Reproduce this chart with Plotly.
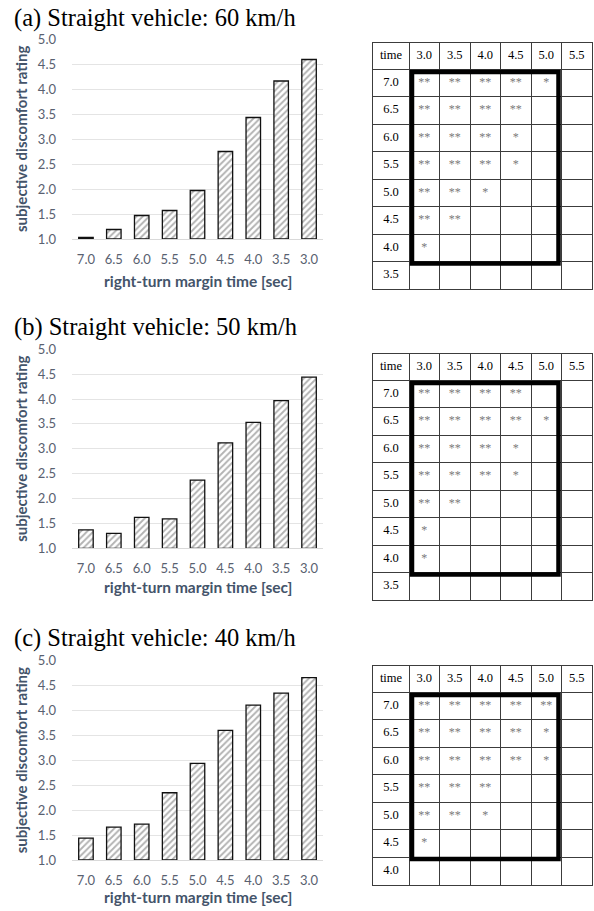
import plotly.graph_objects as go

W, H = 594, 911

# ---------------- data ----------------
margin_times = ["7.0", "6.5", "6.0", "5.5", "5.0", "4.5", "4.0", "3.5", "3.0"]
rating_60 = [1.03, 1.19, 1.47, 1.57, 1.97, 2.75, 3.43, 4.16, 4.59]
rating_50 = [1.37, 1.30, 1.62, 1.59, 2.37, 3.12, 3.53, 3.97, 4.44]
rating_40 = [1.44, 1.66, 1.72, 2.35, 2.94, 3.60, 4.11, 4.35, 4.66]

panel_titles = ["(a) Straight vehicle: 60 km/h",
                "(b) Straight vehicle: 50 km/h",
                "(c) Straight vehicle: 40 km/h"]

table_header = ["time", "3.0", "3.5", "4.0", "4.5", "5.0", "5.5"]
rows_60 = ["7.0", "6.5", "6.0", "5.5", "5.0", "4.5", "4.0", "3.5"]
sig_60 = [
    ["**", "**", "**", "**", "*", ""],
    ["**", "**", "**", "**", "", ""],
    ["**", "**", "**", "*", "", ""],
    ["**", "**", "**", "*", "", ""],
    ["**", "**", "*", "", "", ""],
    ["**", "**", "", "", "", ""],
    ["*", "", "", "", "", ""],
    ["", "", "", "", "", ""],
]
rows_50 = ["7.0", "6.5", "6.0", "5.5", "5.0", "4.5", "4.0", "3.5"]
sig_50 = [
    ["**", "**", "**", "**", "", ""],
    ["**", "**", "**", "**", "*", ""],
    ["**", "**", "**", "*", "", ""],
    ["**", "**", "**", "*", "", ""],
    ["**", "**", "", "", "", ""],
    ["*", "", "", "", "", ""],
    ["*", "", "", "", "", ""],
    ["", "", "", "", "", ""],
]
rows_40 = ["7.0", "6.5", "6.0", "5.5", "5.0", "4.5", "4.0"]
sig_40 = [
    ["**", "**", "**", "**", "**", ""],
    ["**", "**", "**", "**", "*", ""],
    ["**", "**", "**", "**", "*", ""],
    ["**", "**", "**", "", "", ""],
    ["**", "**", "*", "", "", ""],
    ["*", "", "", "", "", ""],
    ["", "", "", "", "", ""],
]
# thick frame: columns 3.0-5.0, rows from 7.0 down to this row label
frame_last_row = ["4.0", "4.0", "4.5"]

# ---------------- layout geometry (pixels) ----------------
chart_x = (72, 323)
chart_y = [(39, 239), (349.3, 548.3), (660.7, 860)]   # (5.0 line, 1.0 line)
title_base = [26, 335, 646]
xtitle_y = [281, 587, 897]
table_top = [43, 354, 666]
table_left = 373
col_w = [36, 30.5, 30.5, 30.5, 30.5, 30.5, 30.5]
head_h = 26
row_h = 27.5

TICK_COL = "#596170"
TITLE_COL = "#44546a"
SANS = "Lato, 'Open Sans', sans-serif"
SERIF = "'Liberation Serif', 'Times New Roman', serif"
GRIDC = "#3c3c3c"


def px(x):
    return x / W


def py(y):
    return 1 - y / H


fig = go.Figure()
ratings = [rating_60, rating_50, rating_40]
rows_all = [rows_60, rows_50, rows_40]
sigs = [sig_60, sig_50, sig_40]

col_edges = [0]
for w in col_w:
    col_edges.append(col_edges[-1] + w)
col_centers = [(col_edges[k] + col_edges[k + 1]) / 2 for k in range(len(col_w))]

for i in range(3):
    ax = "" if i == 0 else str(i + 1)
    vals = ratings[i]
    fig.add_trace(go.Bar(
        x=margin_times, y=[v - 1 for v in vals], base=1,
        xaxis="x" + ax, yaxis="y" + ax,
        marker=dict(color="white",
                    line=dict(color="#111111", width=1.3),
                    pattern=dict(shape="/", fgcolor="#666666", bgcolor="white",
                                 size=4.5, solidity=0.42)),
        showlegend=False, hoverinfo="skip",
    ))
    top, bot = chart_y[i]
    fig.update_layout({
        "xaxis" + ax: dict(domain=[px(chart_x[0]), px(chart_x[1])],
                           anchor="y" + ax, type="category", automargin=False,
                           showgrid=False, showline=True, linecolor="#d9d9d9",
                           linewidth=1, ticks="", ticklabelstandoff=8,
                           tickfont=dict(family=SANS, size=13, color=TICK_COL),
                           fixedrange=True),
        "yaxis" + ax: dict(domain=[py(bot), py(top)], anchor="x" + ax,
                           automargin=False,
                           range=[1, 5], dtick=0.5, tick0=1, tickformat=".1f",
                           showgrid=True, gridcolor="#e4e4e4", gridwidth=1,
                           zeroline=False, showline=False, ticks="",
                           ticklabelstandoff=15,
                           tickfont=dict(family=SANS, size=13, color=TICK_COL),
                           fixedrange=True),
    })
    # panel title
    fig.add_annotation(text=panel_titles[i], xref="paper", yref="paper",
                       x=px(12), y=py(title_base[i] - 8), xanchor="left",
                       yanchor="middle", showarrow=False,
                       font=dict(family=SERIF, size=24.5, color="black"))
    # axis titles
    fig.add_annotation(text="<b>right-turn margin time [sec]</b>", xref="paper",
                       yref="paper", x=px(197.5), y=py(xtitle_y[i]),
                       xanchor="center", yanchor="middle", showarrow=False,
                       font=dict(family=SANS, size=15.5, color=TITLE_COL))
    fig.add_annotation(text="<b>subjective discomfort rating</b>", xref="paper",
                       yref="paper", x=px(21), y=py((top + bot) / 2),
                       xanchor="center", yanchor="middle", textangle=-90,
                       showarrow=False,
                       font=dict(family=SANS, size=15, color=TITLE_COL))

    # ---------- significance table drawn on its own axes ----------
    rows = rows_all[i]
    sig = sigs[i]
    n = len(rows)
    row_edges = [0, head_h] + [head_h + (r + 1) * row_h for r in range(n)]
    row_centers = [(row_edges[k] + row_edges[k + 1]) / 2 for k in range(n + 1)]
    tab_h = row_edges[-1]
    t0 = table_top[i]
    tx = "x" + str(4 + i)
    ty = "y" + str(4 + i)
    fig.update_layout({
        "xaxis" + str(4 + i): dict(domain=[px(table_left),
                                           px(table_left + col_edges[-1])],
                                   anchor=ty, range=[0, col_edges[-1]],
                                   automargin=False,
                                   tickvals=col_edges, showticklabels=False,
                                   showgrid=True, gridcolor=GRIDC, gridwidth=1,
                                   zeroline=False, showline=True, mirror=True,
                                   linecolor=GRIDC, linewidth=1, ticks="",
                                   fixedrange=True),
        "yaxis" + str(4 + i): dict(domain=[py(t0 + tab_h), py(t0)],
                                   anchor=tx, range=[tab_h, 0],
                                   automargin=False,
                                   tickvals=row_edges, showticklabels=False,
                                   showgrid=True, gridcolor=GRIDC, gridwidth=1,
                                   zeroline=False, showline=True, mirror=True,
                                   linecolor=GRIDC, linewidth=1, ticks="",
                                   fixedrange=True),
    })
    lab_x = col_centers[:] + [col_centers[0]] * n
    lab_y = [row_centers[0]] * len(col_centers) + row_centers[1:]
    lab_t = table_header + rows
    fig.add_trace(go.Scatter(x=lab_x, y=lab_y, text=lab_t, mode="text",
                             textposition="middle center", xaxis=tx, yaxis=ty,
                             textfont=dict(family=SERIF, size=12.5, color="black"),
                             showlegend=False, hoverinfo="skip",
                             cliponaxis=False))
    sx, sy, st = [], [], []
    for r in range(n):
        for c in range(6):
            if sig[r][c]:
                sx.append(col_centers[c + 1])
                sy.append(row_centers[r + 1])
                st.append(sig[r][c])
    fig.add_trace(go.Scatter(x=sx, y=sy, text=st, mode="text",
                             textposition="middle center", xaxis=tx, yaxis=ty,
                             textfont=dict(family=SERIF, size=12, color="#7a7a7a"),
                             showlegend=False, hoverinfo="skip",
                             cliponaxis=False))
    last = rows.index(frame_last_row[i])
    fig.add_shape(type="rect", xref=tx, yref=ty,
                  x0=col_edges[1] + 3, x1=col_edges[6] - 3,
                  y0=row_edges[1] + 3, y1=row_edges[last + 2] + 2,
                  line=dict(color="black", width=4.5), layer="above")

fig.update_layout(width=W, height=H,
                  margin=dict(l=0, r=0, t=0, b=0, pad=0, autoexpand=False),
                  paper_bgcolor="white", plot_bgcolor="white",
                  bargap=0.48)

fig.write_html("out.html", config={"displayModeBar": False},
               post_script="document.body.style.margin='0';")
